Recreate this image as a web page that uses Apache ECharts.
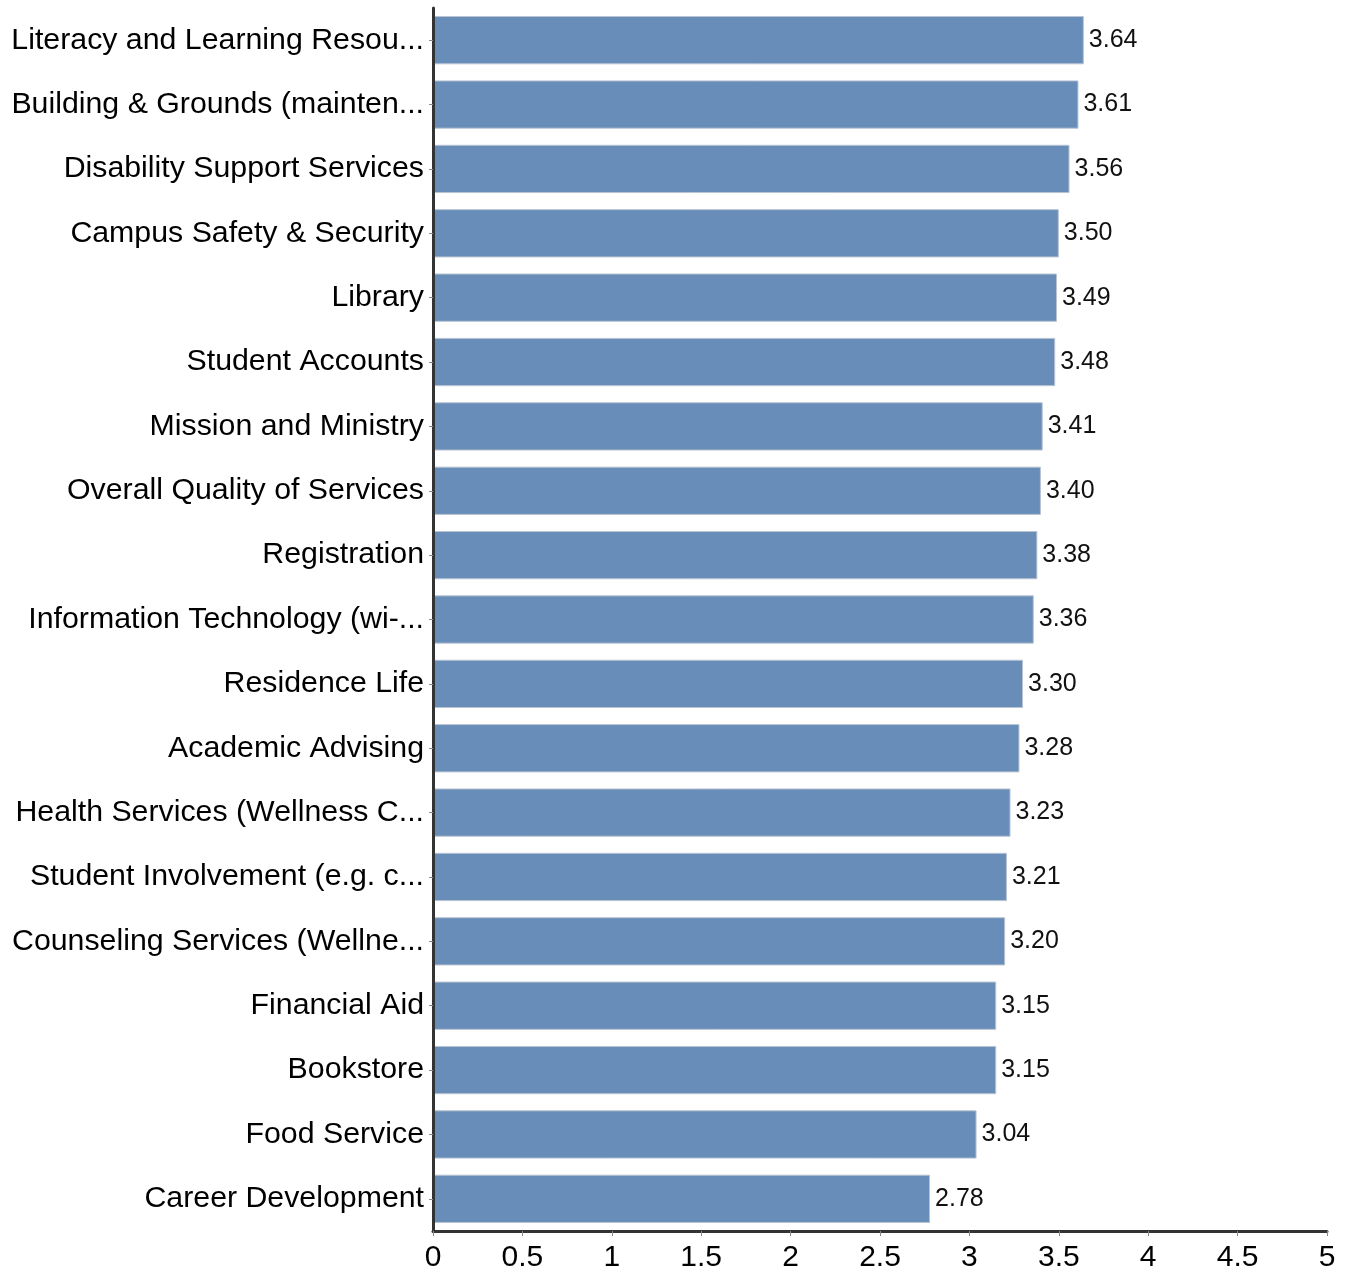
<!DOCTYPE html>
<html>
<head>
<meta charset="utf-8">
<script src="https://cdn.jsdelivr.net/npm/echarts@6/dist/echarts.min.js"></script>
<style>html,body{margin:0;padding:0;background:#fff}#c{width:1349px;height:1273px}</style>
</head>
<body>
<div id="c"></div>
<script>
const categories = [
  "Literacy and Learning Resou...",
  "Building & Grounds (mainten...",
  "Disability Support Services",
  "Campus Safety & Security",
  "Library",
  "Student Accounts",
  "Mission and Ministry",
  "Overall Quality of Services",
  "Registration",
  "Information Technology (wi-...",
  "Residence Life",
  "Academic Advising",
  "Health Services (Wellness C...",
  "Student Involvement (e.g. c...",
  "Counseling Services (Wellne...",
  "Financial Aid",
  "Bookstore",
  "Food Service",
  "Career Development"
];
const values = [3.64, 3.61, 3.56, 3.50, 3.49, 3.48, 3.41, 3.40, 3.38, 3.36, 3.30, 3.28, 3.23, 3.21, 3.20, 3.15, 3.15, 3.04, 2.78];
const xTicks = { min: 0, max: 5, interval: 0.5 };

const FONT = 'Liberation Sans, Arial, sans-serif';
const chart = echarts.init(document.getElementById('c'));
chart.setOption({
  animation: false,
  backgroundColor: '#ffffff',
  grid: { left: 433, right: 22, top: 8, bottom: 41, containLabel: false },
  xAxis: {
    type: 'value', min: xTicks.min, max: xTicks.max, interval: xTicks.interval, z: 5,
    axisLine: { show: true, lineStyle: { color: '#333333', width: 3 } },
    axisTick: { show: true, length: 5, lineStyle: { color: '#888888', width: 1 } },
    axisLabel: { color: '#000', fontSize: 30, fontFamily: FONT, margin: 12 },
    splitLine: { show: false }
  },
  yAxis: {
    type: 'category', data: categories, inverse: true, z: 5,
    axisLine: { show: true, lineStyle: { color: '#333333', width: 3 } },
    axisTick: { show: true, length: 4, alignWithLabel: true, lineStyle: { color: '#888888', width: 1 } },
    axisLabel: { color: '#000', fontSize: 30.3, fontFamily: FONT, margin: 9, padding: [5, 0, 0, 0] }
  },
  series: [{
    type: 'bar', data: values, barCategoryGap: '25%',
    itemStyle: { color: '#678db8', borderColor: '#b9c4d2', borderWidth: 1 },
    label: { show: true, position: 'right', distance: 5, color: '#111', fontSize: 25,
      fontFamily: FONT, padding: [2, 0, 0, 0],
      formatter: p => p.value.toFixed(2) }
  }]
});
</script>
</body>
</html>
